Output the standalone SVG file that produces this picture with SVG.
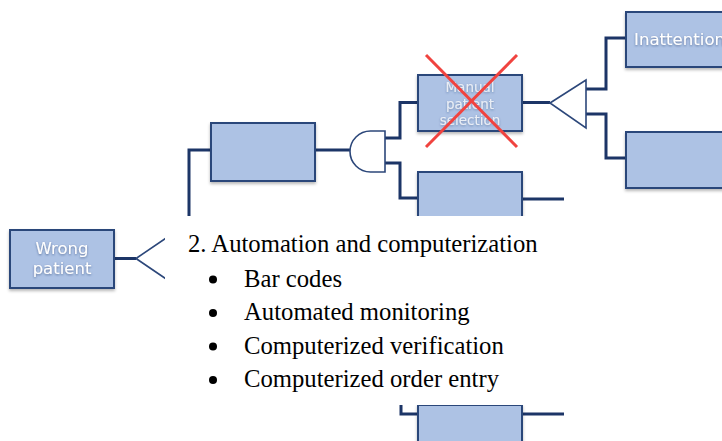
<svg xmlns="http://www.w3.org/2000/svg" width="722" height="441" viewBox="0 0 722 441">
  <defs>
    <filter id="boxShadow" x="-10%" y="-10%" width="130%" height="140%">
      <feDropShadow dx="0" dy="2" stdDeviation="1.6" flood-color="#000" flood-opacity="0.28"/>
    </filter>
    <filter id="labelGlow" x="-10%" y="-30%" width="120%" height="160%">
      <feDropShadow dx="0" dy="1" stdDeviation="1.2" flood-color="#1f3864" flood-opacity="0.55"/>
    </filter>
  </defs>
  <style>
    .box { fill: #adc2e4; stroke: #2c477a; stroke-width: 2; filter: url(#boxShadow); }
    .wire { fill: none; stroke: #1c3567; stroke-width: 3; stroke-linejoin: miter; }
    .gate { fill: #ffffff; stroke: #2c477a; stroke-width: 1.6; stroke-linejoin: miter; }
    .label { font-family: "DejaVu Sans", "Open Sans", sans-serif; fill: #ffffff; text-anchor: middle; filter: url(#labelGlow); }
    .faint { fill-opacity: 0.75; }
    .cross { stroke: #f0433f; stroke-width: 3; stroke-linecap: butt; }
    .note { font-family: "Liberation Serif", "Times New Roman", serif; font-size: 24.7px; fill: #000000; }
  </style>

  <!-- connectors -->
  <g id="connectors">
    <!-- Wrong patient to OR gate -->
    <path class="wire" d="M114,258.5 H136"/>
    <!-- left vertical trunk into the upper branch box -->
    <path class="wire" d="M189,220 V150 H211"/>
    <!-- upper branch box to AND gate -->
    <path class="wire" d="M315,150 H350"/>
    <!-- AND gate outputs -->
    <path class="wire" d="M385,138 H400 V102.5 H418"/>
    <path class="wire" d="M385,163 H400 V198 H418"/>
    <!-- Manual patient selection to OR gate -->
    <path class="wire" d="M522,102.5 H550"/>
    <!-- OR gate outputs -->
    <path class="wire" d="M586,89 H606 V38 H626"/>
    <path class="wire" d="M586,114 H606 V158 H626"/>
    <!-- stub leaving the lower box -->
    <path class="wire" d="M522,199 H564"/>
    <!-- bottom box wires -->
    <path class="wire" d="M401,404 V414 H418"/>
    <path class="wire" d="M522,414 H564"/>
  </g>

  <!-- gates -->
  <g id="gate-or-root">
    <path class="gate" d="M136,258.5 L175,232 M136,258.5 L175,285"/>
  </g>
  <g id="gate-and">
    <path class="gate" d="M385,131 H370.5 A20.5,20.5 0 0 0 370.5,172 H385 Z"/>
  </g>
  <g id="gate-or-manual">
    <path class="gate" d="M550,103 L586,80 V128 Z"/>
  </g>

  <!-- nodes -->
  <g id="node-wrong-patient">
    <rect class="box" x="10" y="230" width="104" height="58"/>
    <text class="label" font-size="16.5" x="62" y="254">Wrong</text>
    <text class="label" font-size="16.5" x="62" y="274">patient</text>
  </g>
  <g id="node-upper-branch">
    <rect class="box" x="211" y="123" width="104" height="58"/>
  </g>
  <g id="node-manual-selection">
    <rect class="box" x="418" y="75" width="104" height="56"/>
    <text class="label faint" font-size="13.5" x="470" y="92">Manual</text>
    <text class="label faint" font-size="13.5" x="470" y="108.5">patient</text>
    <text class="label faint" font-size="13.5" x="470" y="125">selection</text>
  </g>
  <g id="node-lower-branch">
    <rect class="box" x="418" y="172" width="104" height="56"/>
  </g>
  <g id="node-inattention">
    <rect class="box" x="626" y="12" width="110" height="55"/>
    <text class="label" font-size="16.6" x="634" y="45" style="text-anchor:start">Inattention</text>
  </g>
  <g id="node-right-lower">
    <rect class="box" x="626" y="132" width="110" height="56"/>
  </g>
  <g id="node-bottom">
    <rect class="box" x="418" y="405" width="104" height="50"/>
  </g>

  <!-- strike-out over the manual selection step -->
  <g id="strike">
    <line class="cross" x1="426" y1="55" x2="517" y2="147"/>
    <line class="cross" x1="517" y1="55" x2="426" y2="147"/>
  </g>

  <!-- text panel laid over the lower part of the tree -->
  <rect x="165" y="216" width="557" height="189" fill="#ffffff"/>
  <g id="note">
    <text class="note" x="188" y="252">2. Automation and computerization</text>
    <circle cx="213" cy="279.5" r="4" fill="#000"/>
    <text class="note" x="244" y="286.5">Bar codes</text>
    <circle cx="213" cy="313" r="4" fill="#000"/>
    <text class="note" x="244" y="320">Automated monitoring</text>
    <circle cx="213" cy="346.5" r="4" fill="#000"/>
    <text class="note" x="244" y="353.5">Computerized verification</text>
    <circle cx="213" cy="380" r="4" fill="#000"/>
    <text class="note" x="244" y="387">Computerized order entry</text>
  </g>
</svg>
